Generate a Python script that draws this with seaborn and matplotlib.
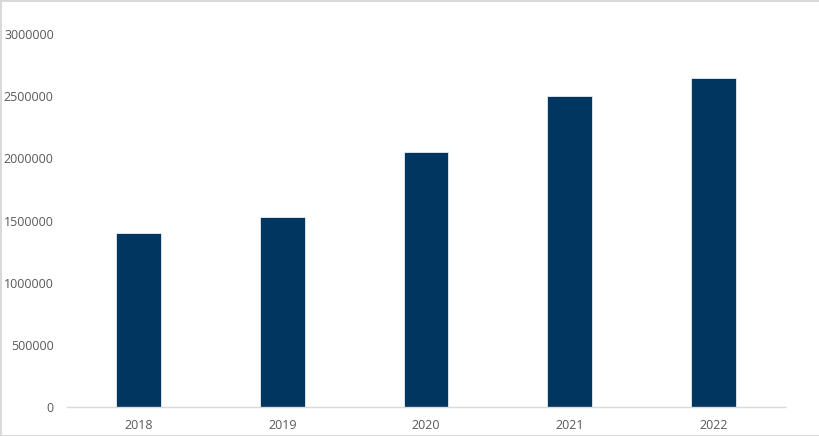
import matplotlib
matplotlib.use('Agg')
import matplotlib.pyplot as plt
import seaborn as sns
import pandas as pd

years = ['2018', '2019', '2020', '2021', '2022']
values = [1400000, 1525000, 2050000, 2500000, 2650000]

bar_color = '#003660'
text_color = '#595959'

sns.set_theme(style='white')
plt.rcParams['font.family'] = ['Open Sans', 'DejaVu Sans']

df = pd.DataFrame({'year': years, 'value': values})

fig = plt.figure(figsize=(8.2, 4.36), dpi=100, linewidth=2, edgecolor='#d9d9d9')
ax = fig.add_axes([67 / 820, 1 - 407 / 436, (785 - 67) / 820, (407 - 34) / 436])

sns.barplot(
    data=df,
    x='year',
    y='value',
    color=bar_color,
    width=0.3125,
    edgecolor='#e6edf5',
    linewidth=0.6,
    saturation=1,
    ax=ax,
)

ax.set_xlim(-0.5, 4.5)
ax.set_ylim(0, 3000000)
ax.set_yticks(range(0, 3000001, 500000))
ax.set_yticklabels([str(v) for v in range(0, 3000001, 500000)])
ax.set_xlabel('')
ax.set_ylabel('')

ax.tick_params(axis='y', length=0, pad=9.5, labelsize=9, labelcolor=text_color)
ax.tick_params(axis='x', length=0, pad=8.5, labelsize=9, labelcolor=text_color)

for side in ['top', 'right', 'left']:
    ax.spines[side].set_visible(False)
ax.spines['bottom'].set_color('#d9d9d9')
ax.spines['bottom'].set_linewidth(1)

fig.savefig('out.png', dpi=100)
plt.close(fig)
